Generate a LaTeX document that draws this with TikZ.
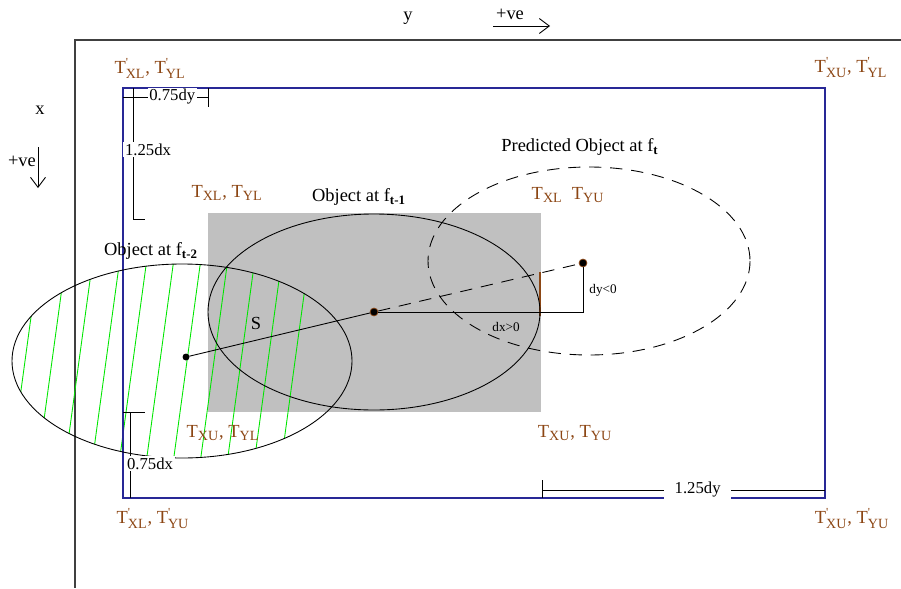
\documentclass[tikz,border=0pt]{standalone}
\usepackage{fontspec}
\setmainfont{Liberation Serif}
\newfontfamily\labfont{Liberation Serif}
\usepackage{xcolor}
\usepackage{tikz}
\usetikzlibrary{arrows.meta,positioning}

\definecolor{bndblue}{RGB}{40,40,150}
\definecolor{tbrown}{RGB}{140,70,20}
\definecolor{boxgray}{RGB}{192,192,192}
\definecolor{hatchgreen}{RGB}{0,230,0}
\definecolor{axisgray}{RGB}{64,64,64}

\newcommand{\subtxt}[1]{\hbox{\labfont\fontsize{8}{9}\selectfont #1}}
\newcommand{\Tb}[1]{T$_{\subtxt{#1}}$}
\newcommand{\Tpr}[1]{T$^{\hbox{\fontsize{7}{8}\selectfont\textquotesingle}}_{\subtxt{#1}}$}

\begin{document}
\begin{tikzpicture}[x=0.02cm, y=-0.02cm,
  lbl/.style={font=\labfont\fontsize{10.5}{12}\selectfont, text=tbrown, inner sep=0pt},
  txt/.style={font=\fontsize{10.5}{12}\selectfont, inner sep=0pt},
  dim/.style={font=\fontsize{9.5}{11}\selectfont, fill=white, inner sep=1pt},
  ln/.style={line width=0.5pt},
  dot/.style={circle, fill=black, draw=tbrown, line width=0.4pt, inner sep=0pt, minimum size=4.5pt},
  arr/.style={-{Straight Barb[length=2mm, width=3mm]}, line width=0.5pt}
]
  \useasboundingbox (0,0) rectangle (901,588);

  % axes
  \draw[axisgray, line width=1.1pt] (901,40) -- (75,40) -- (75,588);
  \node[txt] (ylab) at (408,18) {y};
  \node[txt] (ypos) at (510,14) {+ve};
  \coordinate (ya) at (493,26);
  \coordinate (yb) at (550,26);
  \draw[arr] (ya) -- (yb);
  \node[txt] (xlab) at (40,110) {x};
  \node[txt] (xpos) at (22,161) {+ve};
  \coordinate (xa) at (38,147);
  \coordinate (xb) at (38,188);
  \draw[arr] (xa) -- (xb);

  % search window and object box
  \fill[boxgray] (208,213) rectangle (541,412);
  \begin{scope}
    \clip (182,361) ellipse [x radius=170, y radius=97];
    \foreach \h in {25,52,...,295}
      \draw[hatchgreen, line width=0.5pt] (\h-15,471) -- (\h+15,251);
  \end{scope}
  \draw[bndblue, line width=0.8pt] (123,88) rectangle (825,498);
  \draw[tbrown, line width=0.6pt] (540,272) -- (540,316);

  % objects
  \draw[ln] (374,312) ellipse [x radius=166, y radius=98];
  \draw[ln] (182,361) ellipse [x radius=170, y radius=97];
  \draw[ln, dash pattern=on 7pt off 5pt] (589,261) ellipse [x radius=161, y radius=94];

  \node[dot, minimum size=3.5pt, draw=black] (c2) at (186,357) {};
  \node[dot] (c1) at (374,312) {};
  \node[dot] (cp) at (583,263) {};
  \draw[ln] (c2) -- (c1);
  \draw[ln, dash pattern=on 7pt off 5pt] (c1) -- (cp);
  \draw[ln] (c1) -- (c1 -| cp) -- (cp);
  \node[font=\fontsize{7.5}{8}\selectfont, inner sep=0pt] (dy) at (603,290) {dy<0};
  \node[font=\fontsize{7.5}{8}\selectfont, inner sep=0pt] (dx) at (506,327) {dx>0};
  \node[txt] (s) at (256,323) {S};

  \node[txt] (o1) at (359,197) {Object at f\textsubscript{\textbf{t-1}}};
  \node[txt] (op) at (580,147) {Predicted Object at f\textsubscript{\textbf{t}}};
  \node[txt] (o2) at (151,251) {Object at f\textsubscript{\textbf{t-2}}};

  % corner labels
  \node[lbl] (tl) at (150,68) {\Tpr{XL}, \Tpr{YL}};
  \node[lbl] (tr) at (851,68) {\Tpr{XU}, \Tpr{YL}};
  \node[lbl] (bl) at (153,519) {\Tpr{XL}, \Tpr{YU}};
  \node[lbl] (br) at (852,519) {\Tpr{XU}, \Tpr{YU}};
  \node[lbl] (gtl) at (227,193) {\Tb{XL}, \Tb{YL}};
  \node[lbl] (gtr) at (568,195) {\Tb{XL}\ \ \Tb{YU}};
  \node[lbl] (gbl) at (223,433) {\Tb{XU}, \Tb{YL}};
  \node[lbl] (gbr) at (575,433) {\Tb{XU}, \Tb{YU}};

  % margins
  \draw[ln] (123,97) -- node[dim, pos=0.58] {0.75dy} (208,97);
  \draw[ln] (208,88) -- (208,107);
  \draw[ln] (133,88) -- node[dim, pos=0.47, xshift=0.3cm] {1.25dx} (133,219) -- (145,219);
  \draw[ln] (123,412) -- (145,412);
  \draw[ln] (130,412) -- node[dim, pos=0.6, xshift=0.4cm] {0.75dx} (130,498);
  \draw[ln] (542,490) -- node[dim, pos=0.55, inner xsep=6pt] {1.25dy} (825,490);
  \draw[ln] (542,480) -- (542,498);
\end{tikzpicture}
\end{document}
